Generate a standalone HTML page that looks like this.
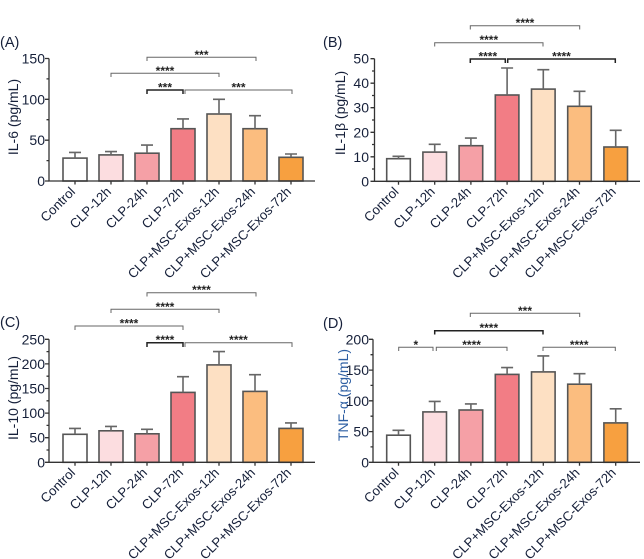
<!DOCTYPE html>
<html><head><meta charset="utf-8"><style>
html,body{margin:0;padding:0;background:#fff;}
svg{display:block;font-family:"Liberation Sans",Arial,sans-serif;}
.t{font-size:14px;fill:#16203a;}
.tr{font-size:14px;fill:#16203a;text-anchor:end;}
.xl{font-size:13.2px;fill:#16203a;text-anchor:end;}
.st{font-size:12px;font-weight:bold;fill:#222;text-anchor:middle;}
.ax{stroke:#333;stroke-width:1.3;fill:none;}
.bar{stroke:#555;stroke-width:1.6;}
.eb{stroke:#666;stroke-width:1.6;fill:none;}
.br{stroke:#666;stroke-width:1;fill:none;}
.bk{stroke:#222;stroke-width:1.5;fill:none;}
.pl{font-size:14.5px;fill:#16203a;}
</style></head><body>
<svg width="644" height="559" viewBox="0 0 644 559" xmlns="http://www.w3.org/2000/svg">

<!-- ================= PANEL A ================= -->
<text class="pl" x="0" y="47">(A)</text>
<text class="t" text-anchor="middle" transform="translate(18,117) rotate(-90)">IL-6 (pg/mL)</text>
<rect class="bar" x="63" y="158.1" width="24" height="22.9" fill="#ffffff"/>
<rect class="bar" x="99" y="154.9" width="24" height="26.1" fill="#fcdde0"/>
<rect class="bar" x="135" y="153.2" width="24" height="27.8" fill="#f5a0a6"/>
<rect class="bar" x="171" y="128.7" width="24" height="52.3" fill="#f27d85"/>
<rect class="bar" x="207" y="114.0" width="24" height="67" fill="#fde0c3"/>
<rect class="bar" x="243" y="128.7" width="24" height="52.3" fill="#fbbd7f"/>
<rect class="bar" x="279" y="157.3" width="24" height="23.7" fill="#f7a040"/>
<path class="eb" d="M75 158.1V152.4M69 152.4H81 M111 154.9V151.6M105 151.6H117 M147 153.2V145.1M141 145.1H153 M183 128.7V118.9M177 118.9H189 M219 114V99.3M213 99.3H225 M255 128.7V115.7M249 115.7H261 M291 157.3V154M285 154H297"/>
<path class="ax" d="M49 58.5V181H315"/>
<path class="ax" d="M45 181H49M45 140.2H49M45 99.3H49M45 58.5H49M46.5 160.6H49M46.5 119.7H49M46.5 78.9H49 M75 181V184.5M111 181V184.5M147 181V184.5M183 181V184.5M219 181V184.5M255 181V184.5M291 181V184.5"/>
<text class="tr" x="45" y="186">0</text>
<text class="tr" x="45" y="145.2">50</text>
<text class="tr" x="45" y="104.3">100</text>
<text class="tr" x="45" y="63.5">150</text>
<g class="xl">
<text transform="translate(76,192.5) rotate(-45)">Control</text>
<text transform="translate(112,192.5) rotate(-45)">CLP-12h</text>
<text transform="translate(148,192.5) rotate(-45)">CLP-24h</text>
<text transform="translate(184,192.5) rotate(-45)">CLP-72h</text>
<text transform="translate(220,192.5) rotate(-45)">CLP+MSC-Exos-12h</text>
<text transform="translate(256,192.5) rotate(-45)">CLP+MSC-Exos-24h</text>
<text transform="translate(292,192.5) rotate(-45)">CLP+MSC-Exos-72h</text>
</g>
<path class="br" d="M147 61V57.3H256V61"/><text class="st" x="201.5" y="58.8">***</text>
<path class="br" d="M111 77V73.3H219V77"/><text class="st" x="165" y="74.8">****</text>
<path class="bk" d="M147 94V90H183V94"/><text class="st" x="165" y="91.5">***</text>
<path class="br" d="M185 94V90H292V94"/><text class="st" x="238.5" y="91.5">***</text>

<!-- ================= PANEL B ================= -->
<text class="pl" x="323" y="47">(B)</text>
<text class="t" text-anchor="middle" transform="translate(345,113) rotate(-90)">IL-1β (pg/mL)</text>
<rect class="bar" x="386.7" y="158.7" width="23.6" height="22.6" fill="#ffffff"/>
<rect class="bar" x="422.9" y="152.1" width="23.6" height="29.2" fill="#fcdde0"/>
<rect class="bar" x="459.1" y="145.7" width="23.6" height="35.6" fill="#f5a0a6"/>
<rect class="bar" x="495.3" y="95.0" width="23.6" height="86.3" fill="#f27d85"/>
<rect class="bar" x="531.5" y="89.1" width="23.6" height="92.2" fill="#fde0c3"/>
<rect class="bar" x="567.7" y="106.3" width="23.6" height="75" fill="#fbbd7f"/>
<rect class="bar" x="603.9" y="147.0" width="23.6" height="34.3" fill="#f7a040"/>
<path class="eb" d="M398.5 158.7V156.3M392.5 156.3H404.5 M434.7 152.1V144.3M428.7 144.3H440.7 M470.9 145.7V138.1M464.9 138.1H476.9 M507.1 95V68M501.1 68H513.1 M543.3 89.1V69.7M537.3 69.7H549.3 M579.5 106.3V91.3M573.5 91.3H585.5 M615.7 147V130.3M609.7 130.3H621.7"/>
<path class="ax" d="M374.5 58.7V181.3H640"/>
<path class="ax" d="M370.5 181.3H374.5M370.5 156.8H374.5M370.5 132.3H374.5M370.5 107.7H374.5M370.5 83.2H374.5M370.5 58.7H374.5 M372 169H374.5M372 144.5H374.5M372 120H374.5M372 95.5H374.5M372 71H374.5 M398.5 181.3V184.8M434.7 181.3V184.8M470.9 181.3V184.8M507.1 181.3V184.8M543.3 181.3V184.8M579.5 181.3V184.8M615.7 181.3V184.8"/>
<text class="tr" x="369" y="186.3">0</text>
<text class="tr" x="369" y="161.8">10</text>
<text class="tr" x="369" y="137.3">20</text>
<text class="tr" x="369" y="112.7">30</text>
<text class="tr" x="369" y="88.2">40</text>
<text class="tr" x="369" y="63.7">50</text>
<g class="xl">
<text transform="translate(399.5,192.5) rotate(-45)">Control</text>
<text transform="translate(435.7,192.5) rotate(-45)">CLP-12h</text>
<text transform="translate(471.9,192.5) rotate(-45)">CLP-24h</text>
<text transform="translate(508.1,192.5) rotate(-45)">CLP-72h</text>
<text transform="translate(544.3,192.5) rotate(-45)">CLP+MSC-Exos-12h</text>
<text transform="translate(580.5,192.5) rotate(-45)">CLP+MSC-Exos-24h</text>
<text transform="translate(616.7,192.5) rotate(-45)">CLP+MSC-Exos-72h</text>
</g>
<path class="br" d="M470.3 29.5V25.7H579.7V29.5"/><text class="st" x="525" y="27.2">****</text>
<path class="br" d="M434.7 46.5V42.7H543V46.5"/><text class="st" x="488.8" y="44.2">****</text>
<path class="bk" d="M470.3 63V59H505.3V63"/><text class="st" x="487.8" y="60.5">****</text>
<path class="bk" d="M507.7 63V59H615.3V63"/><text class="st" x="561.5" y="60.5">****</text>

<!-- ================= PANEL C ================= -->
<text class="pl" x="0" y="327">(C)</text>
<text class="t" text-anchor="middle" transform="translate(18,398) rotate(-90)">IL-10 (pg/mL)</text>
<rect class="bar" x="63" y="434.3" width="24" height="28" fill="#ffffff"/>
<rect class="bar" x="99" y="430.8" width="24" height="31.5" fill="#fcdde0"/>
<rect class="bar" x="135" y="433.8" width="24" height="28.5" fill="#f5a0a6"/>
<rect class="bar" x="171" y="392.4" width="24" height="69.9" fill="#f27d85"/>
<rect class="bar" x="207" y="364.9" width="24" height="97.4" fill="#fde0c3"/>
<rect class="bar" x="243" y="391.4" width="24" height="70.9" fill="#fbbd7f"/>
<rect class="bar" x="279" y="428.4" width="24" height="33.9" fill="#f7a040"/>
<path class="eb" d="M75 434.3V428.4M69 428.4H81 M111 430.8V426.4M105 426.4H117 M147 433.8V429.3M141 429.3H153 M183 392.4V376.7M177 376.7H189 M219 364.9V351.6M213 351.6H225 M255 391.4V374.7M249 374.7H261 M291 428.4V422.9M285 422.9H297"/>
<path class="ax" d="M49 339.3V462.3H315"/>
<path class="ax" d="M45 462.3H49M45 437.7H49M45 413.1H49M45 388.5H49M45 363.9H49M45 339.3H49 M46.5 450H49M46.5 425.4H49M46.5 400.8H49M46.5 376.2H49M46.5 351.6H49 M75 462.3V465.8M111 462.3V465.8M147 462.3V465.8M183 462.3V465.8M219 462.3V465.8M255 462.3V465.8M291 462.3V465.8"/>
<text class="tr" x="45" y="467.3">0</text>
<text class="tr" x="45" y="442.7">50</text>
<text class="tr" x="45" y="418.1">100</text>
<text class="tr" x="45" y="393.5">150</text>
<text class="tr" x="45" y="368.9">200</text>
<text class="tr" x="45" y="344.3">250</text>
<g class="xl">
<text transform="translate(76,473.5) rotate(-45)">Control</text>
<text transform="translate(112,473.5) rotate(-45)">CLP-12h</text>
<text transform="translate(148,473.5) rotate(-45)">CLP-24h</text>
<text transform="translate(184,473.5) rotate(-45)">CLP-72h</text>
<text transform="translate(220,473.5) rotate(-45)">CLP+MSC-Exos-12h</text>
<text transform="translate(256,473.5) rotate(-45)">CLP+MSC-Exos-24h</text>
<text transform="translate(292,473.5) rotate(-45)">CLP+MSC-Exos-72h</text>
</g>
<path class="br" d="M147 296.5V292.7H256V296.5"/><text class="st" x="201.5" y="294.2">****</text>
<path class="br" d="M111 313V309.3H219V313"/><text class="st" x="165" y="310.8">****</text>
<path class="br" d="M75 330V326H183V330"/><text class="st" x="129" y="327.5">****</text>
<path class="bk" d="M147 347V342.7H183V347"/><text class="st" x="165" y="344.2">****</text>
<path class="br" d="M185 347V342.7H292V347"/><text class="st" x="238.5" y="344.2">****</text>

<!-- ================= PANEL D ================= -->
<text class="pl" x="323" y="328">(D)</text>
<text class="t" text-anchor="middle" style="fill:#2e5fa3" transform="translate(348,395) rotate(-90)">TNF-α (pg/mL)</text>
<rect class="bar" x="386.7" y="435.2" width="23.6" height="27.1" fill="#ffffff"/>
<rect class="bar" x="422.9" y="411.9" width="23.6" height="50.4" fill="#fcdde0"/>
<rect class="bar" x="459.1" y="410.0" width="23.6" height="52.3" fill="#f5a0a6"/>
<rect class="bar" x="495.3" y="374.4" width="23.6" height="87.9" fill="#f27d85"/>
<rect class="bar" x="531.5" y="371.9" width="23.6" height="90.4" fill="#fde0c3"/>
<rect class="bar" x="567.7" y="384.2" width="23.6" height="78.1" fill="#fbbd7f"/>
<rect class="bar" x="603.9" y="422.9" width="23.6" height="39.4" fill="#f7a040"/>
<path class="eb" d="M398.5 435.2V430.3M392.5 430.3H404.5 M434.7 411.9V401.4M428.7 401.4H440.7 M470.9 410V403.9M464.9 403.9H476.9 M507.1 374.4V367.6M501.1 367.6H513.1 M543.3 371.9V355.9M537.3 355.9H549.3 M579.5 384.2V373.7M573.5 373.7H585.5 M615.7 422.9V408.8M609.7 408.8H621.7"/>
<path class="ax" d="M373 339.3V462.3H640"/>
<path class="ax" d="M369 462.3H373M369 431.6H373M369 400.8H373M369 370.1H373M369 339.3H373 M370.5 446.9H373M370.5 416.2H373M370.5 385.4H373M370.5 354.7H373 M398.5 462.3V465.8M434.7 462.3V465.8M470.9 462.3V465.8M507.1 462.3V465.8M543.3 462.3V465.8M579.5 462.3V465.8M615.7 462.3V465.8"/>
<text class="tr" x="369" y="467.3">0</text>
<text class="tr" x="369" y="436.6">50</text>
<text class="tr" x="369" y="405.8">100</text>
<text class="tr" x="369" y="375.1">150</text>
<text class="tr" x="369" y="344.3">200</text>
<g class="xl">
<text transform="translate(399.5,473.5) rotate(-45)">Control</text>
<text transform="translate(435.7,473.5) rotate(-45)">CLP-12h</text>
<text transform="translate(471.9,473.5) rotate(-45)">CLP-24h</text>
<text transform="translate(508.1,473.5) rotate(-45)">CLP-72h</text>
<text transform="translate(544.3,473.5) rotate(-45)">CLP+MSC-Exos-12h</text>
<text transform="translate(580.5,473.5) rotate(-45)">CLP+MSC-Exos-24h</text>
<text transform="translate(616.7,473.5) rotate(-45)">CLP+MSC-Exos-72h</text>
</g>
<path class="br" d="M470.3 317V313.3H579.7V317"/><text class="st" x="525" y="314.8">***</text>
<path class="bk" d="M434.7 334.5V330.7H543V334.5"/><text class="st" x="488.8" y="332.2">****</text>
<path class="br" d="M398.7 351V347.3H433V351"/><text class="st" x="415.8" y="348.8">*</text>
<path class="br" d="M436.3 351V347.3H507V351"/><text class="st" x="471.6" y="348.8">****</text>
<path class="br" d="M543 351V347.3H615.3V351"/><text class="st" x="579.2" y="348.8">****</text>

</svg>
</body></html>
